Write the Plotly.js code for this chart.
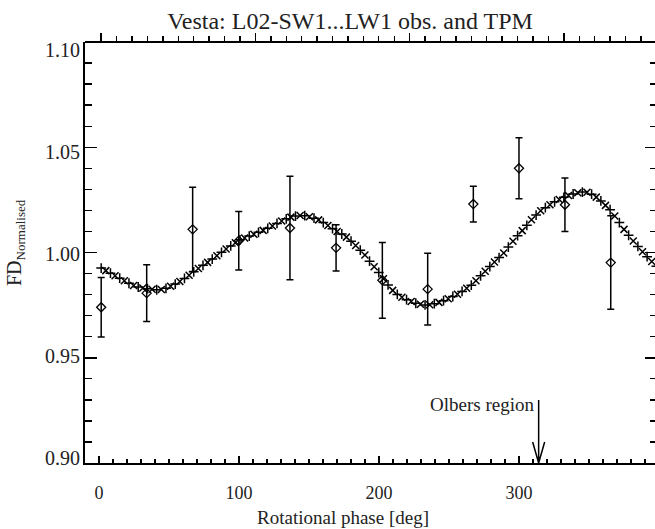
<!DOCTYPE html>
<html><head><meta charset="utf-8">
<script src="https://cdn.plot.ly/plotly-3.0.1.min.js"></script>
<style>html,body{margin:0;padding:0;background:#fff}</style>
</head><body><div id="chart" style="width:655px;height:529px"></div>
<script>
// Observations (rotational phase on the data scale, normalised flux density, 1-sigma error)
const obsPhase = [0, 29.5, 59.3, 89.2, 122.4, 152.3, 182.3, 211.7, 241.3, 270.9, 300.7, 330.4];
const obsFlux  = [0.974, 0.9807, 1.011, 1.0056, 1.0116, 1.0022, 0.9868, 0.9826, 1.023, 1.040, 1.0227, 0.9952];
const obsErr   = [0.0141, 0.0135, 0.020, 0.0139, 0.0246, 0.011, 0.018, 0.017, 0.0085, 0.0145, 0.0127, 0.0222];

// TPM model curve
const modelPhase = [0,3,6,9,12,15,18,21,24,27,30,33,36,39,42,45,48,51,54,57,60,63,66,69,72,75,78,81,84,87,
  90,93,96,99,102,105,108,111,114,117,120,123,126,129,132,135,138,141,144,147,150,153,156,159,162,165,168,171,174,177,
  180,183,186,189,192,195,198,201,204,207,210,213,216,219,222,225,228,231,234,237,240,243,246,249,252,255,258,261,264,267,
  270,273,276,279,282,285,288,291,294,297,300,303,306,309,312,315,318,321,324,327,330,333,336,339,342,345,348,351,354,357,360];
const modelFlux = [0.9926,0.9914,0.9902,0.9890,0.9878,0.9866,0.9854,0.9843,0.9836,0.9831,0.9828,0.9825,0.9823,0.9824,0.9830,0.9840,0.9850,0.9862,0.9877,0.9892,
  0.9908,0.9924,0.9939,0.9953,0.9969,0.9985,1.0001,1.0017,1.0031,1.0046,1.0060,1.0069,1.0078,1.0087,1.0096,1.0105,1.0115,1.0126,1.0138,1.0150,
  1.0160,1.0168,1.0173,1.0176,1.0175,1.0170,1.0163,1.0155,1.0142,1.0128,1.0113,1.0100,1.0088,1.0073,1.0054,1.0033,1.0011,0.9988,0.9959,0.9932,
  0.9905,0.9875,0.9846,0.9820,0.9801,0.9787,0.9776,0.9767,0.9759,0.9754,0.9751,0.9752,0.9757,0.9763,0.9771,0.9780,0.9791,0.9802,0.9815,0.9830,
  0.9845,0.9866,0.9889,0.9911,0.9933,0.9955,0.9976,0.9998,1.0026,1.0053,1.0080,1.0104,1.0129,1.0156,1.0178,1.0198,1.0213,1.0227,1.0241,1.0252,
  1.0262,1.0271,1.0278,1.0284,1.0287,1.0286,1.0277,1.0263,1.0245,1.0224,1.0203,1.0173,1.0142,1.0110,1.0082,1.0055,1.0029,1.0004,0.9980,0.9957,0.9935];

// Tick labels
const xTickVals = [0, 100, 200, 300];
const xTickText = ['0', '100', '200', '300'];
const yTickVals = [0.90, 0.95, 1.00, 1.05, 1.10];
const yTickText = ['0.90', '0.95', '1.00', '1.05', '1.10'];

// Texts
const titleText = 'Vesta: L02-SW1...LW1 obs. and TPM';
const xTitleText = 'Rotational phase [deg]';
const yTitleText = 'FD<sub><span style="font-size:13px">Normalised</span></sub>';
const olbersText = 'Olbers region';
const olbersPhase = 314;

const FONT = 'Liberation Serif, Times New Roman, serif';
const INK = '#000';
const TXT = '#222';

const modelSymbols = modelPhase.map((_, i) => (i % 2 === 0 ? 'cross-thin' : 'x-thin'));

// data traces live on the top-scale axis 'x'; overlay axes get an empty ('none') trace so they are drawn
const ghost = (xa, ya) => ({x: obsPhase, y: obsFlux, xaxis: xa, yaxis: ya, mode: 'none', type: 'scatter', hoverinfo: 'skip'});

const traces = [
  ghost('x2', 'y'), ghost('x', 'y3'), ghost('x', 'y4'),
  {
    x: modelPhase, y: modelFlux, xaxis: 'x', yaxis: 'y',
    mode: 'markers', type: 'scatter', hoverinfo: 'skip',
    marker: {symbol: modelSymbols, size: 7, color: INK, line: {width: 1.5, color: INK}}
  },
  {
    x: obsPhase, y: obsFlux, xaxis: 'x', yaxis: 'y',
    mode: 'markers', type: 'scatter',
    marker: {symbol: 'diamond-open', size: 7, color: INK, line: {width: 1.3, color: INK}},
    error_y: {type: 'data', array: obsErr, visible: true, color: INK, thickness: 1.5, width: 3.5}
  }
];

const minorIn = {ticks: 'inside', tickcolor: INK, tickwidth: 1.4, showgrid: false};

const layout = {
  width: 655, height: 529,
  margin: {l: 85, r: 0, t: 42, b: 66, pad: 0},
  paper_bgcolor: '#fff', plot_bgcolor: '#fff',
  showlegend: false,
  font: {family: FONT, color: TXT, size: 19},
  title: {text: titleText, font: {family: FONT, size: 24, color: TXT},
          x: 350 / 655, xref: 'container', xanchor: 'center', y: 1 - 21 / 529, yref: 'container', yanchor: 'middle'},
  // top axis (scale of the plotted data), placed at the top edge
  xaxis: {
    side: 'bottom', anchor: 'free', position: 1,
    range: [-10.5, 359.1], tickmode: 'array', tickvals: xTickVals,
    ticks: 'inside', ticklen: 8, tickwidth: 1.5, tickcolor: INK, showticklabels: false,
    showline: true, linewidth: 2, linecolor: INK, showgrid: false, zeroline: false,
    minor: Object.assign({tickmode: 'linear', tick0: 0, dtick: 10, ticklen: 5}, minorIn)
  },
  // bottom axis with labels
  xaxis2: {
    overlaying: 'x', side: 'bottom', anchor: 'y',
    range: [-10, 397.1], tickmode: 'array', tickvals: xTickVals, ticktext: xTickText,
    ticks: 'inside', ticklen: 7, tickwidth: 1.5, tickcolor: INK,
    showline: true, linewidth: 2, linecolor: INK, showgrid: false, zeroline: false,
    tickfont: {family: FONT, size: 18, color: TXT}, ticklabelstandoff: 12,
    minor: Object.assign({tickmode: 'linear', tick0: 0, dtick: 10, ticklen: 4}, minorIn)
  },
  yaxis: {
    range: [0.90, 1.10], tickmode: 'array', tickvals: yTickVals,
    ticks: 'inside', ticklen: 12, tickwidth: 1.5, tickcolor: INK, showticklabels: false,
    showline: true, linewidth: 2, linecolor: INK, showgrid: false, zeroline: false,
    minor: Object.assign({tickmode: 'linear', tick0: 0.9, dtick: 0.01, ticklen: 7}, minorIn)
  },
  yaxis3: {
    overlaying: 'y', side: 'right', anchor: 'x',
    range: [0.90, 1.10], tickmode: 'array', tickvals: yTickVals,
    ticks: 'inside', ticklen: 10, tickwidth: 1.5, tickcolor: INK, showticklabels: false,
    showline: false, showgrid: false, zeroline: false,
    minor: Object.assign({tickmode: 'linear', tick0: 0.9, dtick: 0.01, ticklen: 5}, minorIn)
  },
  yaxis4: {
    overlaying: 'y', side: 'left', anchor: 'x',
    range: [0.8975, 1.1039], tickmode: 'array', tickvals: yTickVals, ticktext: yTickText,
    ticks: '', showline: false, showgrid: false, zeroline: false,
    tickfont: {family: FONT, size: 20, color: TXT}, ticklabelstandoff: 4
  },
  annotations: [
    {text: xTitleText, xref: 'paper', yref: 'paper', x: (343 - 85) / 570, y: (463 - 517) / 421,
     xanchor: 'center', yanchor: 'middle', showarrow: false, font: {family: FONT, size: 19, color: TXT}},
    {text: yTitleText, xref: 'paper', yref: 'paper', x: 0, xshift: -70, y: (463 - 243) / 421,
     xanchor: 'center', yanchor: 'middle', textangle: -90, showarrow: false, font: {family: FONT, size: 20, color: TXT}},
    {text: olbersText, xref: 'x2', yref: 'y', x: olbersPhase, xshift: -3, y: 0.928,
     xanchor: 'right', yanchor: 'middle', showarrow: false, font: {family: FONT, size: 19, color: TXT}}
  ],
  shapes: [
    {type: 'path', xref: 'x2', yref: 'y', xsizemode: 'pixel', ysizemode: 'pixel',
     xanchor: olbersPhase, yanchor: 0.90,
     path: 'M0,63 L0,0 M-6,21 L0,0 L6,21', line: {color: INK, width: 1.5}}
  ]
};

Plotly.newPlot('chart', traces, layout, {displayModeBar: false, staticPlot: true});
</script>
</body></html>
